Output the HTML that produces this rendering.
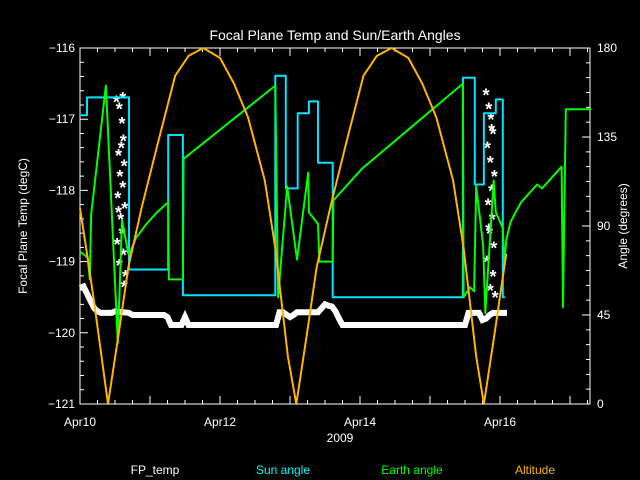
<!DOCTYPE html>
<html><head><meta charset="utf-8"><style>
html,body{margin:0;padding:0;background:#000;}
svg{display:block;font-family:"Liberation Sans",sans-serif;}
</style></head><body>
<svg id="chart" width="640" height="480" viewBox="0 0 640 480" xmlns="http://www.w3.org/2000/svg">
<rect x="0" y="0" width="640" height="480" fill="#000"/>
<text x="335" y="40" fill="#fff" font-size="14" text-anchor="middle">Focal Plane Temp and Sun/Earth Angles</text>
<g id="axes"></g>
<g id="series"></g>
<text transform="translate(27,226) rotate(-90)" fill="#fff" font-size="12" text-anchor="middle">Focal Plane Temp (degC)</text>
<text transform="translate(627,226) rotate(-90)" fill="#fff" font-size="12" text-anchor="middle">Angle (degrees)</text>
<text x="340" y="442" fill="#fff" font-size="12" text-anchor="middle">2009</text>
<text x="155" y="474" fill="#fff" font-size="12" text-anchor="middle">FP_temp</text>
<text x="283" y="474" fill="#00ffff" font-size="12" text-anchor="middle">Sun angle</text>
<text x="412" y="474" fill="#00ff00" font-size="12" text-anchor="middle">Earth angle</text>
<text x="535" y="474" fill="#ffb400" font-size="12" text-anchor="middle">Altitude</text>
</svg>
<script>
const xTickLabels = ["Apr10","Apr12","Apr14","Apr16"];
const xTickDays = [0,2,4,6];
const leftTicks = [-116,-117,-118,-119,-120,-121];
const rightTicks = [180,135,90,45,0];
const altT = [0,0.1,0.2,0.3,0.4,0.55,0.69,0.886,1.12,1.36,1.55,1.76,2.0,2.2,2.4,2.64,2.79,2.97,3.09,3.24,3.38,3.58,3.81,4.05,4.24,4.45,4.69,4.89,5.09,5.33,5.48,5.66,5.77,5.92,6.06,6.09];
const altV = [99,76,52,26,0,35,69,100,133,166,176,180,175,162,145,113,79,24,0,35,69,100,133,166,176,180,175,162,145,113,79,24,0,35,69,76];
const sunT = [0,0.1,0.1,0.7,0.7,1.26,1.26,1.47,1.47,2.79,2.79,2.94,2.94,3.11,3.11,3.27,3.27,3.4,3.4,3.61,3.61,5.47,5.47,5.64,5.64,5.77,5.77,5.94,5.94,6.04,6.04,6.07];
const sunV = [146,146,155,155,68,68,136,136,55,55,166,166,109,109,147,147,153,153,122,122,54,54,165,165,111,111,147,147,154,154,54,54];
const earthT = [0,0.11,0.14,0.16,0.37,0.54,0.6,0.69,0.71,0.8,0.95,1.1,1.26,1.27,1.47,1.48,2.79,2.83,2.96,3.1,3.26,3.27,3.4,3.42,3.61,3.62,4.03,5.47,5.48,5.57,5.63,5.66,5.76,5.79,5.91,5.94,6.04,6.06,6.09,6.15,6.3,6.53,6.6,6.88,6.9,6.94,7.3];
const earthV = [77,74,63,96,161,31,93,76,76,84,91,97,102,63,63,124,161,54,110,73,117,97,91,72,72,103,119,162,54,59,57,110,80,46,113,97,89,71,83,92,102,111,109,120,49,149,149];
const tempT = [0,0.05,0.1,0.15,0.2,0.25,0.3,0.35,0.4,0.45,0.5,0.7,0.75,0.8,0.9,1.0,1.1,1.2,1.25,1.3,1.35,1.4,1.45,1.5,1.55,1.6,1.7,1.8,1.9,2.0,2.1,2.2,2.3,2.4,2.5,2.6,2.7,2.8,2.85,2.9,3.0,3.05,3.1,3.2,3.3,3.4,3.5,3.55,3.6,3.65,3.7,3.75,3.8,3.9,4.0,4.1,4.2,4.3,4.4,4.5,4.6,4.7,4.8,4.9,5.0,5.1,5.2,5.3,5.4,5.5,5.55,5.6,5.65,5.7,5.75,5.8,5.85,5.9,5.95,6.0,6.05,6.1];
const tempV = [-119.37,-119.35,-119.45,-119.55,-119.65,-119.7,-119.72,-119.72,-119.72,-119.72,-119.7,-119.72,-119.75,-119.75,-119.75,-119.75,-119.75,-119.75,-119.78,-119.89,-119.89,-119.89,-119.89,-119.78,-119.89,-119.89,-119.89,-119.89,-119.89,-119.89,-119.89,-119.89,-119.89,-119.89,-119.89,-119.89,-119.89,-119.89,-119.71,-119.71,-119.78,-119.75,-119.71,-119.71,-119.71,-119.71,-119.6,-119.62,-119.63,-119.7,-119.8,-119.89,-119.89,-119.89,-119.89,-119.89,-119.89,-119.89,-119.89,-119.89,-119.89,-119.89,-119.89,-119.89,-119.89,-119.89,-119.89,-119.89,-119.89,-119.89,-119.72,-119.72,-119.72,-119.72,-119.82,-119.8,-119.75,-119.72,-119.72,-119.72,-119.72,-119.72];
const scatT = [0.52,0.56,0.6,0.62,0.55,0.63,0.57,0.61,0.54,0.64,0.58,0.6,0.53,0.62,0.56,0.65,0.59,0.55,0.61,0.63,5.8,5.84,5.87,5.9,5.82,5.86,5.92,5.88,5.83,5.89,5.85,5.91,5.81,5.9,5.86,5.88,5.84,5.93];
const scatV = [-116.75,-116.85,-117.05,-117.3,-117.5,-117.65,-117.8,-117.95,-118.1,-118.25,-118.4,-118.6,-118.75,-118.9,-119.05,-119.2,-117.4,-118.3,-116.7,-119.35,-116.65,-116.85,-117.0,-117.2,-117.4,-117.6,-117.8,-118.0,-118.2,-118.4,-118.6,-118.8,-119.0,-119.2,-119.4,-117.15,-118.55,-119.5];

const X0=80,X1=590,Y0=48,Y1=404,PXD=70;
const xs=t=>X0+t*PXD;
const yl=v=>Y0+(-116-v)*(Y1-Y0)/5;
const yr=a=>Y1-a*(Y1-Y0)/180;
const NS="http://www.w3.org/2000/svg";
const axes=document.getElementById('axes'), series=document.getElementById('series');
function mk(tag,parent,attrs){const e=document.createElementNS(NS,tag);for(const k in attrs)e.setAttribute(k,attrs[k]);parent.appendChild(e);return e;}
const frame=mk('rect',axes,{x:X0,y:Y0,width:X1-X0,height:Y1-Y0,fill:'none',stroke:'#fff','stroke-width':1});


let d='';
for(let t=0;xs(t)<=X1+0.1;t+=0.25){const x=xs(t);const L=(Math.abs(t-Math.round(t))<1e-6)?8:4;d+=`M${x},${Y1}v${-L}M${x},${Y0}v${L}`;}
for(let v=-116;v>=-121.001;v-=0.2){const y=yl(v);const L=(Math.abs(v-Math.round(v))<1e-6)?8:4;d+=`M${X0},${y}h${L}`;}
for(let a=0;a<=180.01;a+=7.5){const y=yr(a);const L=(a%45===0)?8:4;d+=`M${X1},${y}h${-L}`;}
const tk=mk('path',axes,{d:d,stroke:'#fff','stroke-width':1,fill:'none'});


xTickLabels.forEach((s,i)=>{const e=mk('text',axes,{x:xs(xTickDays[i]),y:426,fill:'#fff','font-size':12,'text-anchor':'middle'});e.textContent=s;

});
leftTicks.forEach(v=>{const e=mk('text',axes,{x:75,y:yl(v)+4,fill:'#fff','font-size':12,'text-anchor':'end'});e.textContent=String(v).replace('-','\u2212');

});
rightTicks.forEach(a=>{const e=mk('text',axes,{x:597,y:yr(a)+4,fill:'#fff','font-size':12,'text-anchor':'start'});e.textContent=a;

});
function line(T,V,yf,color,name){const p=T.map((t,i)=>xs(t).toFixed(1)+','+yf(V[i]).toFixed(1)).join(' ');
const e=mk('polyline',series,{points:p,fill:'none',stroke:color,'stroke-width':2,'stroke-linejoin':'round'});

}
const tb=mk('polyline',series,{points:tempT.map((t,i)=>xs(t).toFixed(1)+','+yl(tempV[i]).toFixed(1)).join(' '),fill:'none',stroke:'#fff','stroke-width':6});


function star(x,y,name){const e=mk('text',series,{x:x,y:y+7,fill:'#fff','font-size':18,'text-anchor':'middle','font-weight':'bold'});e.textContent='*';

}
scatT.forEach((t,i)=>star(xs(t),yl(scatV[i]),'fp-temp-point'));
line(sunT,sunV,yr,'#00e5ff','sun-angle-line');
line(earthT,earthV,yr,'#00ff00','earth-angle-line');
line(altT,altV,yr,'#ffb400','altitude-line');
</script>
</body></html>
